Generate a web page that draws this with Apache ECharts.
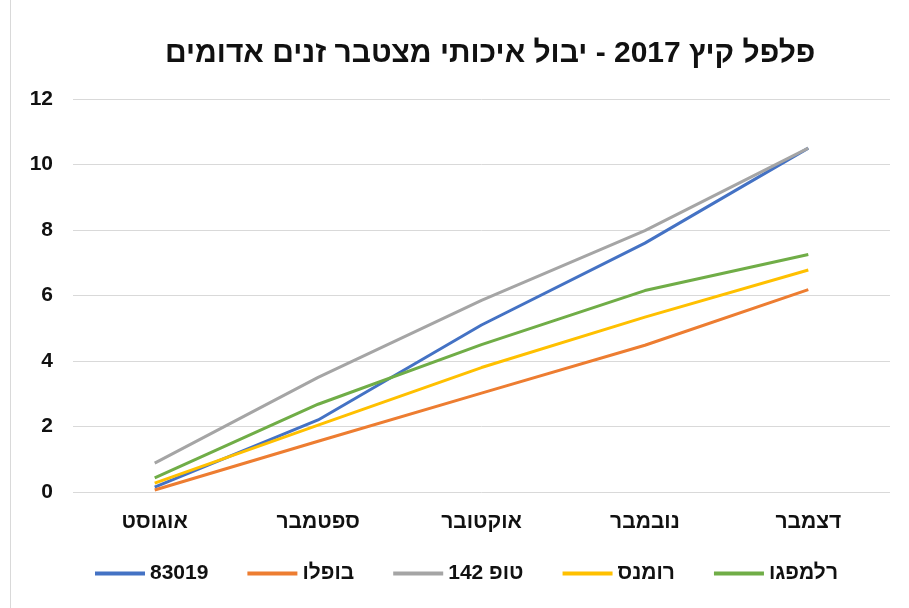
<!DOCTYPE html>
<html>
<head>
<meta charset="utf-8">
<script src="https://cdn.jsdelivr.net/npm/echarts@6/dist/echarts.min.js"></script>
<style>html,body{margin:0;padding:0;background:#fff}#c{width:909px;height:608px}</style>
</head>
<body>
<div id="c"></div>
<script>
const titleText = 'פלפל קיץ 2017 - יבול איכותי מצטבר זנים אדומים';
const categories = ['אוגוסט', 'ספטמבר', 'אוקטובר', 'נובמבר', 'דצמבר'];
const seriesNames = ['83019', 'בופלו', 'טופ 142', 'רומנס', 'רלמפגו'];
const s83019 = [0.15, 2.2, 5.1, 7.6, 10.5];
const sBufalo = [0.06, 1.55, 3.02, 4.48, 6.18];
const sTop142 = [0.88, 3.5, 5.85, 7.98, 10.5];
const sRomans = [0.27, 2.04, 3.8, 5.34, 6.78];
const sRelampago = [0.43, 2.68, 4.5, 6.15, 7.25];
const colors = ['#4472C4', '#ED7D31', '#A5A5A5', '#FFC000', '#70AD47'];
const yTicks = [0, 2, 4, 6, 8, 10, 12];
const values = [s83019, sBufalo, sTop142, sRomans, sRelampago];

const font = '"Liberation Sans", "DejaVu Sans", Arial, sans-serif';
const chart = echarts.init(document.getElementById('c'));
chart.setOption({
  backgroundColor: '#fff',
  animation: false,
  color: colors,
  title: {
    text: titleText,
    left: 160,
    top: 34,
    textStyle: { fontFamily: font, fontSize: 30, fontWeight: 'bold', color: '#111' }
  },
  legend: {
    data: seriesNames,
    top: 563,
    left: 95,
    padding: 0,
    itemWidth: 50,
    itemHeight: 4,
    itemGap: 39,
    icon: 'rect',
    textStyle: { fontFamily: font, fontSize: 21, fontWeight: 'bold', color: '#111' }
  },
  grid: { left: 73, right: 19, top: 99, bottom: 116 },
  xAxis: {
    type: 'category',
    data: categories,
    boundaryGap: true,
    axisLine: { show: false },
    axisTick: { show: false },
    axisLabel: { margin: 20, fontFamily: font, fontSize: 21, fontWeight: 'bold', color: '#111' }
  },
  yAxis: {
    type: 'value',
    min: yTicks[0],
    max: yTicks[yTicks.length - 1],
    interval: 2,
    axisLine: { show: false },
    axisTick: { show: false },
    splitLine: { lineStyle: { color: '#d9d9d9', width: 1 } },
    axisLabel: { margin: 20, fontFamily: font, fontSize: 21, fontWeight: 'bold', color: '#111' }
  },
  graphic: [{
    type: 'line',
    shape: { x1: 10.5, y1: 0, x2: 10.5, y2: 608 },
    style: { stroke: '#d9d9d9', lineWidth: 1 }
  }],
  series: seriesNames.map((n, i) => ({
    name: n,
    type: 'line',
    data: values[i],
    symbol: 'none',
    lineStyle: { width: 3, color: colors[i] },
    itemStyle: { color: colors[i] }
  }))
});
</script>
</body>
</html>
